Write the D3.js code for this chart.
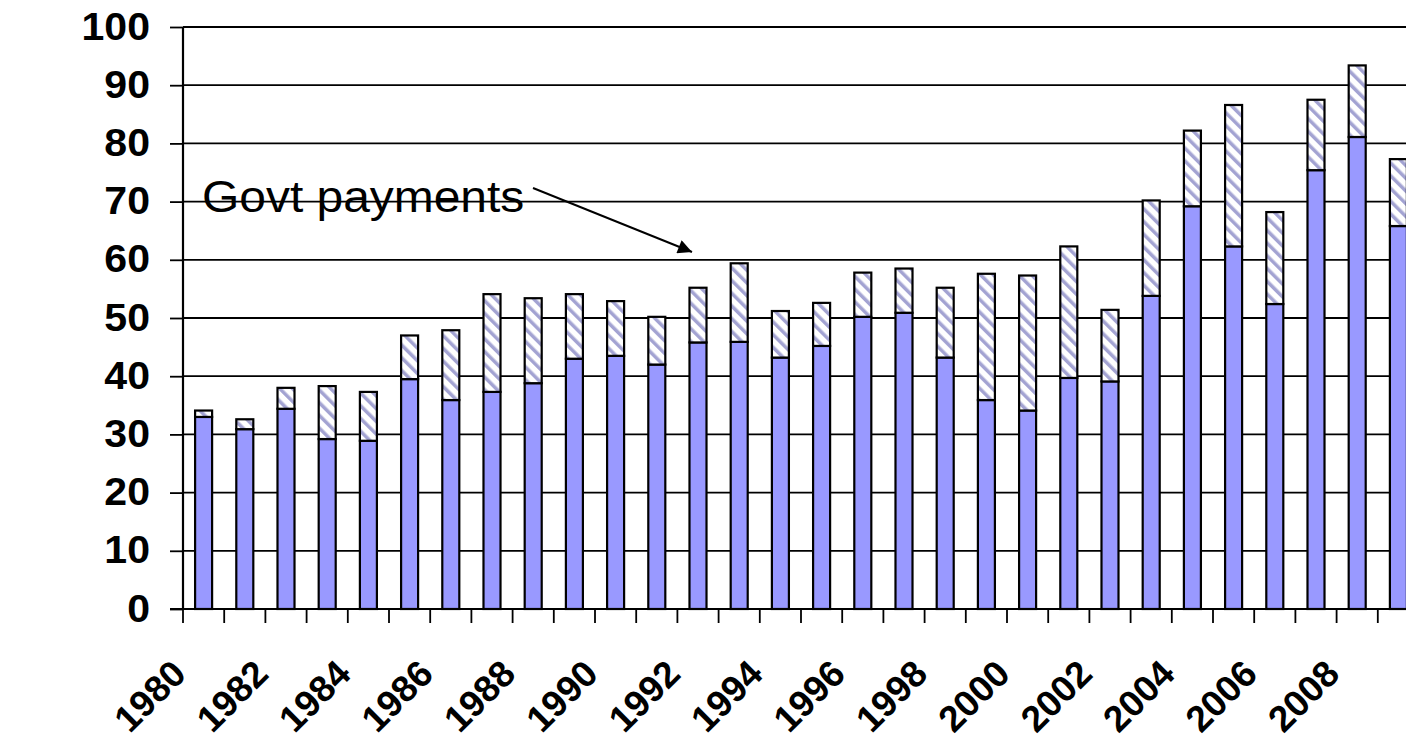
<!DOCTYPE html>
<html>
<head>
<meta charset="utf-8">
<script src="https://cdn.jsdelivr.net/npm/d3@7"></script>
<style>
  body { margin: 0; background: #fff; }
  svg { display: block; font-family: Arial, "Liberation Sans", sans-serif; }
</style>
</head>
<body>
<div id="chart"></div>
<script>
// years on the category axis
var years = d3.range(1980, 2010).map(String);
// value without government payments (solid blue part), billion dollars
var baseValues = [33.0, 30.9, 34.4, 29.2, 28.9, 39.5, 35.9, 37.3, 38.8, 43.0,
                  43.5, 42.0, 45.8, 45.9, 43.2, 45.2, 50.2, 50.9, 43.2, 35.9,
                  34.1, 39.7, 39.1, 53.8, 69.2, 62.3, 52.4, 75.4, 81.1, 65.8];
// government payments (hatched part), billion dollars
var govtPayments = [1.1, 1.7, 3.6, 9.1, 8.4, 7.5, 12.0, 16.8, 14.6, 11.1,
                    9.4, 8.2, 9.4, 13.5, 8.0, 7.4, 7.6, 7.6, 12.0, 21.7,
                    23.2, 22.6, 12.3, 16.4, 13.0, 24.3, 15.8, 12.1, 12.3, 11.5];
var yTicks = [0, 10, 20, 30, 40, 50, 60, 70, 80, 90, 100];
var labelYears = years.filter(function(d, i) { return i % 2 == 0; });

var W = 1406, H = 742;
var margin = {top: 27, left: 183};
var width = 1236, height = 582;

var svg = d3.select("#chart").append("svg")
    .attr("width", W)
    .attr("height", H);

// the original text is a bit wider than Liberation Sans
function widen(sel, k) {
  sel.each(function() {
    var len = this.getComputedTextLength();
    d3.select(this).attr("textLength", len * k).attr("lengthAdjust", "spacingAndGlyphs");
  });
}

var defs = svg.append("defs");
var pat = defs.append("pattern")
    .attr("id", "hatch")
    .attr("patternUnits", "userSpaceOnUse")
    .attr("width", 9)
    .attr("height", 9)
    .attr("patternTransform", "rotate(-45)");
pat.append("rect").attr("width", 9).attr("height", 9).attr("fill", "#fff");
pat.append("rect").attr("x", 0).attr("width", 3.5).attr("height", 9).attr("fill", "#a3a3d2");

defs.append("clipPath").attr("id", "titleclip")
  .append("rect").attr("x", 0).attr("y", 180).attr("width", 80).attr("height", 400);

var g = svg.append("g")
    .attr("transform", "translate(" + margin.left + "," + margin.top + ")");

var x = d3.scaleBand()
    .domain(years)
    .range([0, width])
    .paddingInner(0.587)
    .paddingOuter(0.2935);

var y = d3.scaleLinear()
    .domain([0, 100])
    .range([height, 0]);

var step = x.step();
var offset = (step - x.bandwidth()) / 2;

// horizontal gridlines
g.append("g")
  .selectAll("line")
  .data(yTicks.slice(1))
  .enter().append("line")
    .attr("x1", 0)
    .attr("x2", width)
    .attr("y1", function(d) { return y(d); })
    .attr("y2", function(d) { return y(d); })
    .attr("stroke", "#000")
    .attr("stroke-width", 1.8);

// bars
var bars = g.append("g");
years.forEach(function(yr, i) {
  var b = baseValues[i], t = baseValues[i] + govtPayments[i];
  bars.append("rect")
    .attr("x", x(yr))
    .attr("width", x.bandwidth())
    .attr("y", y(b))
    .attr("height", y(0) - y(b))
    .attr("fill", "#9999ff")
    .attr("stroke", "#000")
    .attr("stroke-width", 2.2);
  bars.append("rect")
    .attr("x", x(yr))
    .attr("width", x.bandwidth())
    .attr("y", y(t))
    .attr("height", y(b) - y(t))
    .attr("fill", "url(#hatch)")
    .attr("stroke", "#000")
    .attr("stroke-width", 2.2);
});

// y axis
var yAxis = g.append("g")
    .call(d3.axisLeft(y).tickValues(yTicks).tickSize(13).tickPadding(20));
yAxis.select(".domain").attr("stroke-width", 2.2).attr("d", "M0," + y(100) + "V" + y(0));
yAxis.selectAll(".tick line").attr("stroke-width", 1.8);
yAxis.selectAll("text")
    .attr("font-family", "Arial, 'Liberation Sans', sans-serif")
    .attr("font-size", 38)
    .attr("font-weight", "bold")
    .attr("fill", "#000")
    .call(widen, 1.08);

// x axis: ticks on category boundaries
var xa = g.append("g").attr("transform", "translate(0," + height + ")");
xa.append("line")
    .attr("x1", -13).attr("x2", width)
    .attr("stroke", "#000").attr("stroke-width", 2.2);
xa.selectAll(".xt")
  .data(years.concat(["end"]))
  .enter().append("line")
    .attr("class", "xt")
    .attr("x1", function(d, i) { return i * step; })
    .attr("x2", function(d, i) { return i * step; })
    .attr("y1", 0).attr("y2", 14)
    .attr("stroke", "#000").attr("stroke-width", 1.8);
xa.selectAll(".xl")
  .data(labelYears)
  .enter().append("text")
    .attr("class", "xl")
    .attr("transform", function(d) {
      return "translate(" + (x(d) - offset + 5) + ",67) rotate(-45)";
    })
    .attr("text-anchor", "end")
    .attr("font-size", 37)
    .attr("font-weight", "bold")
    .text(function(d) { return d; });

// y title
svg.append("text")
    .attr("clip-path", "url(#titleclip)")
    .attr("transform", "translate(45,312) rotate(-90)")
    .attr("text-anchor", "middle")
    .attr("font-size", 37)
    .attr("font-weight", "bold")
    .text("Billion dollars");

// annotation
defs.append("marker")
    .attr("id", "arrow")
    .attr("viewBox", "0 0 10 10")
    .attr("refX", 10).attr("refY", 5)
    .attr("markerWidth", 8).attr("markerHeight", 7)
    .attr("markerUnits", "strokeWidth")
    .attr("orient", "auto")
  .append("path")
    .attr("d", "M0,0L10,5L0,10z")
    .attr("fill", "#000");

svg.append("text")
    .attr("x", 202)
    .attr("y", 212)
    .attr("font-size", 45)
    .text("Govt payments")
    .call(widen, 1.065);

svg.append("line")
    .attr("x1", 533).attr("y1", 188)
    .attr("x2", 692).attr("y2", 252)
    .attr("stroke", "#000")
    .attr("stroke-width", 2)
    .attr("marker-end", "url(#arrow)");
</script>
</body>
</html>
